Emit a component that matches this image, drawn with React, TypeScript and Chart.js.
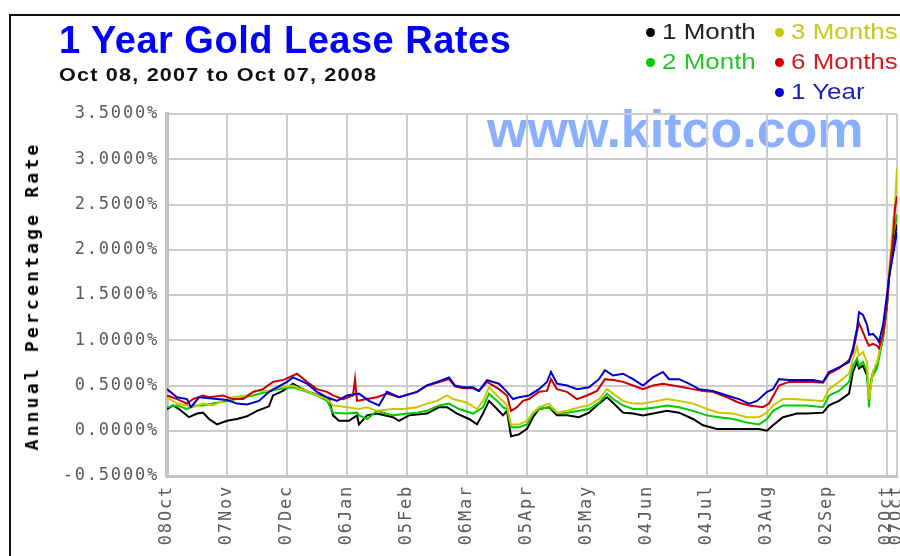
import React, { useEffect, useRef } from "react";
import { Chart, registerables } from "chart.js";

Chart.register(...registerables);

// x positions are days after Oct 08, 2007
const tickDays = [0, 30, 60, 90, 120, 150, 180, 210, 240, 270, 300, 330, 360, 365];
const tickLabels = ["08Oct", "07Nov", "07Dec", "06Jan", "05Feb", "06Mar", "05Apr", "05May", "04Jun", "04Jul", "03Aug", "02Sep", "02Oct", "07Oct"];

const oneMonthDays = [0,3,6,11,15,18,21,25,30,35,40,45,51,53,58,63,66,71,76,81,83,86,91,95,96,100,105,113,116,121,130,136,140,145,151,155,158,161,165,168,170,172,176,180,183,186,191,195,200,206,211,216,220,223,228,233,238,245,250,256,263,268,275,283,290,296,300,303,308,315,320,328,331,336,341,343,345,346,348,350,351,353,355,356,358,360,361,363,365];
const oneMonthRates = [0.24,0.28,0.24,0.15,0.19,0.20,0.13,0.07,0.11,0.13,0.16,0.22,0.27,0.39,0.44,0.52,0.48,0.43,0.39,0.35,0.17,0.11,0.11,0.17,0.07,0.17,0.19,0.15,0.11,0.17,0.19,0.26,0.26,0.19,0.13,0.07,0.19,0.33,0.24,0.17,0.22,-0.06,-0.04,0.02,0.15,0.24,0.26,0.17,0.17,0.15,0.20,0.30,0.37,0.31,0.20,0.19,0.17,0.20,0.22,0.20,0.13,0.06,0.02,0.02,0.02,0.02,0.00,0.06,0.15,0.19,0.19,0.20,0.28,0.33,0.41,0.65,0.76,0.69,0.72,0.61,0.39,0.65,0.72,0.83,1.02,1.39,1.69,2.06,2.28];

const twoMonthDays = [0,5,10,13,18,23,28,35,43,50,56,63,70,75,80,83,90,95,96,100,105,113,120,125,130,136,141,146,153,158,161,165,168,170,172,176,180,183,186,191,195,200,206,211,216,220,223,228,233,238,245,250,256,263,270,276,283,290,296,300,303,308,313,320,328,331,336,341,343,345,346,348,350,351,352,355,356,358,360,361,363,365];
const twoMonthRates = [0.26,0.28,0.24,0.28,0.28,0.30,0.32,0.35,0.39,0.43,0.46,0.48,0.43,0.39,0.33,0.20,0.19,0.20,0.17,0.13,0.22,0.17,0.19,0.20,0.22,0.28,0.30,0.24,0.19,0.26,0.41,0.33,0.26,0.24,0.04,0.04,0.07,0.19,0.24,0.26,0.20,0.20,0.22,0.24,0.31,0.41,0.35,0.28,0.24,0.24,0.26,0.28,0.26,0.22,0.17,0.15,0.13,0.09,0.07,0.13,0.22,0.28,0.28,0.28,0.26,0.39,0.44,0.54,0.72,0.80,0.72,0.76,0.65,0.26,0.57,0.69,0.80,1.02,1.39,1.69,2.13,2.39];

const threeMonthDays = [0,5,10,13,18,23,28,33,40,45,51,56,63,66,70,73,80,83,90,96,100,105,113,118,125,130,135,140,143,150,155,158,161,165,168,170,172,176,180,183,186,191,195,200,206,211,216,220,223,228,233,238,245,250,256,263,270,276,283,290,296,300,303,308,313,320,328,331,336,341,343,345,346,348,350,351,353,355,356,358,360,361,363,364,365];
const threeMonthRates = [0.37,0.30,0.28,0.26,0.30,0.28,0.33,0.37,0.39,0.44,0.44,0.48,0.50,0.47,0.44,0.41,0.35,0.28,0.26,0.24,0.26,0.22,0.24,0.24,0.26,0.30,0.33,0.39,0.35,0.31,0.24,0.33,0.48,0.39,0.33,0.28,0.07,0.07,0.11,0.20,0.26,0.30,0.20,0.22,0.26,0.28,0.35,0.46,0.41,0.33,0.30,0.30,0.33,0.35,0.33,0.30,0.24,0.20,0.19,0.15,0.15,0.20,0.28,0.35,0.35,0.34,0.33,0.46,0.54,0.63,0.80,0.93,0.83,0.87,0.76,0.35,0.65,0.76,0.85,1.06,1.46,1.76,2.28,2.50,2.91];

const sixMonthDays = [0,5,10,13,18,21,28,33,38,43,48,53,58,65,70,75,80,83,88,93,94,95,100,105,110,116,125,130,135,141,144,148,153,156,160,166,170,172,175,178,181,186,190,192,195,200,205,210,215,219,223,228,233,238,243,248,253,258,263,268,273,280,286,291,298,301,306,311,316,323,328,331,336,341,343,345,346,348,350,351,353,355,356,358,360,361,363,364,365];
const sixMonthRates = [0.39,0.35,0.30,0.35,0.39,0.37,0.39,0.35,0.35,0.43,0.46,0.54,0.56,0.63,0.54,0.46,0.43,0.39,0.35,0.39,0.57,0.33,0.35,0.37,0.41,0.37,0.43,0.50,0.53,0.57,0.49,0.47,0.47,0.44,0.54,0.46,0.39,0.22,0.26,0.33,0.35,0.43,0.44,0.57,0.46,0.43,0.35,0.39,0.44,0.57,0.56,0.54,0.50,0.46,0.50,0.52,0.50,0.48,0.46,0.44,0.43,0.37,0.31,0.28,0.26,0.30,0.50,0.54,0.54,0.54,0.53,0.63,0.69,0.78,0.87,1.09,1.19,1.09,0.98,0.94,0.96,0.94,0.91,1.06,1.39,1.69,2.13,2.46,2.59];

const oneYearDays = [0,5,10,12,16,21,30,35,40,46,51,60,63,70,75,80,85,90,96,101,106,110,116,125,130,135,141,144,148,153,156,160,166,170,173,176,181,186,190,192,195,200,205,211,216,219,223,228,233,238,243,248,251,256,261,266,273,280,286,291,295,300,303,306,311,316,323,328,331,336,341,343,345,346,348,350,351,353,355,356,358,360,361,363,365];
const oneYearRates = [0.46,0.37,0.35,0.26,0.37,0.36,0.34,0.30,0.29,0.33,0.43,0.54,0.59,0.52,0.43,0.37,0.33,0.39,0.41,0.33,0.28,0.43,0.37,0.43,0.50,0.54,0.59,0.50,0.48,0.48,0.44,0.56,0.52,0.43,0.35,0.37,0.39,0.46,0.54,0.65,0.52,0.50,0.46,0.48,0.57,0.67,0.61,0.63,0.57,0.50,0.59,0.65,0.57,0.57,0.52,0.46,0.44,0.39,0.35,0.30,0.33,0.43,0.46,0.57,0.56,0.56,0.56,0.54,0.65,0.70,0.76,0.91,1.13,1.31,1.28,1.17,1.06,1.07,1.02,0.98,1.17,1.50,1.69,1.94,2.20];

const seriesNames = ["1 Month", "2 Month", "3 Months", "6 Months", "1 Year"];
const seriesColors = ["#000000", "#00cc00", "#c8c800", "#cc0000", "#0000cc"];
const legendTextColors = ["#222222", "#22c822", "#c8c81e", "#cc1e1e", "#1e1eb4"];

const toPoints = (days: number[], rates: number[]) => days.map((d, i) => ({ x: d, y: rates[i] }));

export default function App() {
  const canvasRef = useRef<HTMLCanvasElement | null>(null);

  useEffect(() => {
    const canvas = canvasRef.current;
    if (!canvas) return;
    const all = [
      toPoints(oneMonthDays, oneMonthRates),
      toPoints(twoMonthDays, twoMonthRates),
      toPoints(threeMonthDays, threeMonthRates),
      toPoints(sixMonthDays, sixMonthRates),
      toPoints(oneYearDays, oneYearRates),
    ];
    const datasets = all
      .map((data, i) => ({
        label: seriesNames[i],
        data,
        borderColor: seriesColors[i],
        backgroundColor: seriesColors[i],
        borderWidth: 2,
        pointRadius: 0,
        tension: 0,
        fill: false,
      }))
      .reverse();

    const tickFont = { family: "'DejaVu Sans Mono', monospace", size: 17 };

    const chart = new Chart(canvas, {
      type: "line",
      data: { datasets },
      options: {
        animation: false,
        responsive: false,
        devicePixelRatio: 1,
        layout: { padding: { top: 114, right: 3, left: 0, bottom: 0 } },
        plugins: { legend: { display: false }, title: { display: false }, tooltip: { enabled: false } },
        scales: {
          x: {
            type: "linear",
            min: 0,
            max: 365,
            afterBuildTicks: (scale: any) => {
              scale.ticks = tickDays.map((v) => ({ value: v }));
            },
            afterFit: (scale: any) => {
              scale.height = 80;
              scale.paddingLeft = 0;
              scale.paddingRight = 0;
            },
            ticks: {
              autoSkip: false,
              minRotation: 90,
              maxRotation: 90,
              padding: 9,
              color: "#5a5a5a",
              font: tickFont,
              callback: (value: any) => {
                const i = tickDays.indexOf(Number(value));
                return i >= 0 ? tickLabels[i] : "";
              },
            },
            grid: { color: "#cccccc", lineWidth: 2, drawTicks: false },
            border: { color: "#c4c4c4", width: 3 },
          },
          y: {
            min: -0.5,
            max: 3.5,
            afterFit: (scale: any) => {
              scale.width = 167;
              scale.paddingTop = 0;
              scale.paddingBottom = 0;
            },
            ticks: {
              stepSize: 0.5,
              padding: 8,
              color: "#5a5a5a",
              font: tickFont,
              callback: (value: any) => Number(value).toFixed(4) + "%",
            },
            grid: { color: "#cccccc", lineWidth: 2, drawTicks: false },
            border: { color: "#c4c4c4", width: 4 },
          },
        },
      },
    } as any);
    (chart.ctx as any).letterSpacing = "1.8px";
    chart.draw();
    return () => chart.destroy();
  }, []);

  const sans = "'Liberation Sans', Arial, sans-serif";
  const legendItems = [
    { i: 0, x: 662, row: 0 },
    { i: 2, x: 791, row: 0 },
    { i: 1, x: 662, row: 1 },
    { i: 3, x: 791, row: 1 },
    { i: 4, x: 791, row: 2 },
  ];

  return (
    <div style={{ position: "fixed", left: 0, top: 0, width: 900, height: 556, background: "#ffffff", overflow: "hidden" }}>
      <div
        style={{
          position: "absolute",
          left: 9,
          top: 14,
          width: 1000,
          height: 700,
          borderTop: "2px solid #111",
          borderLeft: "2px solid #111",
        }}
      />
      <div
        style={{
          position: "absolute",
          left: 487,
          top: 103,
          fontFamily: sans,
          fontWeight: "bold",
          fontSize: 52,
          lineHeight: "52px",
          color: "#8aafff",
          whiteSpace: "nowrap",
          zIndex: 0,
        }}
      >
        www.kitco.com
      </div>
      <canvas
        ref={canvasRef}
        width={900}
        height={556}
        style={{ position: "absolute", left: 0, top: 0, width: 900, height: 556, zIndex: 1 }}
      />
      <div
        style={{
          position: "absolute",
          left: 59,
          top: 21,
          fontFamily: sans,
          fontWeight: "bold",
          fontSize: 38,
          lineHeight: "38px",
          letterSpacing: "0.5px",
          color: "#0000ff",
          whiteSpace: "nowrap",
          zIndex: 2,
        }}
      >
        1 Year Gold Lease Rates
      </div>
      <div
        style={{
          position: "absolute",
          left: 59,
          top: 65.5,
          fontFamily: sans,
          fontWeight: "bold",
          fontSize: 18,
          lineHeight: "18px",
          letterSpacing: "1px",
          color: "#111111",
          whiteSpace: "nowrap",
          transform: "scaleX(1.2)",
          transformOrigin: "left center",
          zIndex: 2,
        }}
      >
        Oct 08, 2007 to Oct 07, 2008
      </div>
      <div
        style={{
          position: "absolute",
          left: 32,
          top: 296,
          transform: "translate(-50%, -50%) rotate(-90deg)",
          fontFamily: "'DejaVu Sans Mono', monospace",
          fontWeight: "bold",
          fontSize: 18,
          lineHeight: "18px",
          letterSpacing: "3.2px",
          color: "#000000",
          whiteSpace: "nowrap",
          zIndex: 2,
        }}
      >
        Annual Percentage Rate
      </div>
      {legendItems.map(({ i, x, row }) => (
        <React.Fragment key={i}>
          <div
            style={{
              position: "absolute",
              left: x - 16,
              top: 32 + row * 30 - 4.5,
              width: 9,
              height: 9,
              borderRadius: "50%",
              background: seriesColors[i],
              zIndex: 2,
            }}
          />
          <div
            style={{
              position: "absolute",
              left: x,
              top: 20.7 + row * 30,
              fontFamily: sans,
              fontSize: 22,
              lineHeight: "22px",
              color: legendTextColors[i],
              whiteSpace: "nowrap",
              transform: "scaleX(1.18)",
              transformOrigin: "left center",
              zIndex: 2,
            }}
          >
            {seriesNames[i]}
          </div>
        </React.Fragment>
      ))}
    </div>
  );
}
